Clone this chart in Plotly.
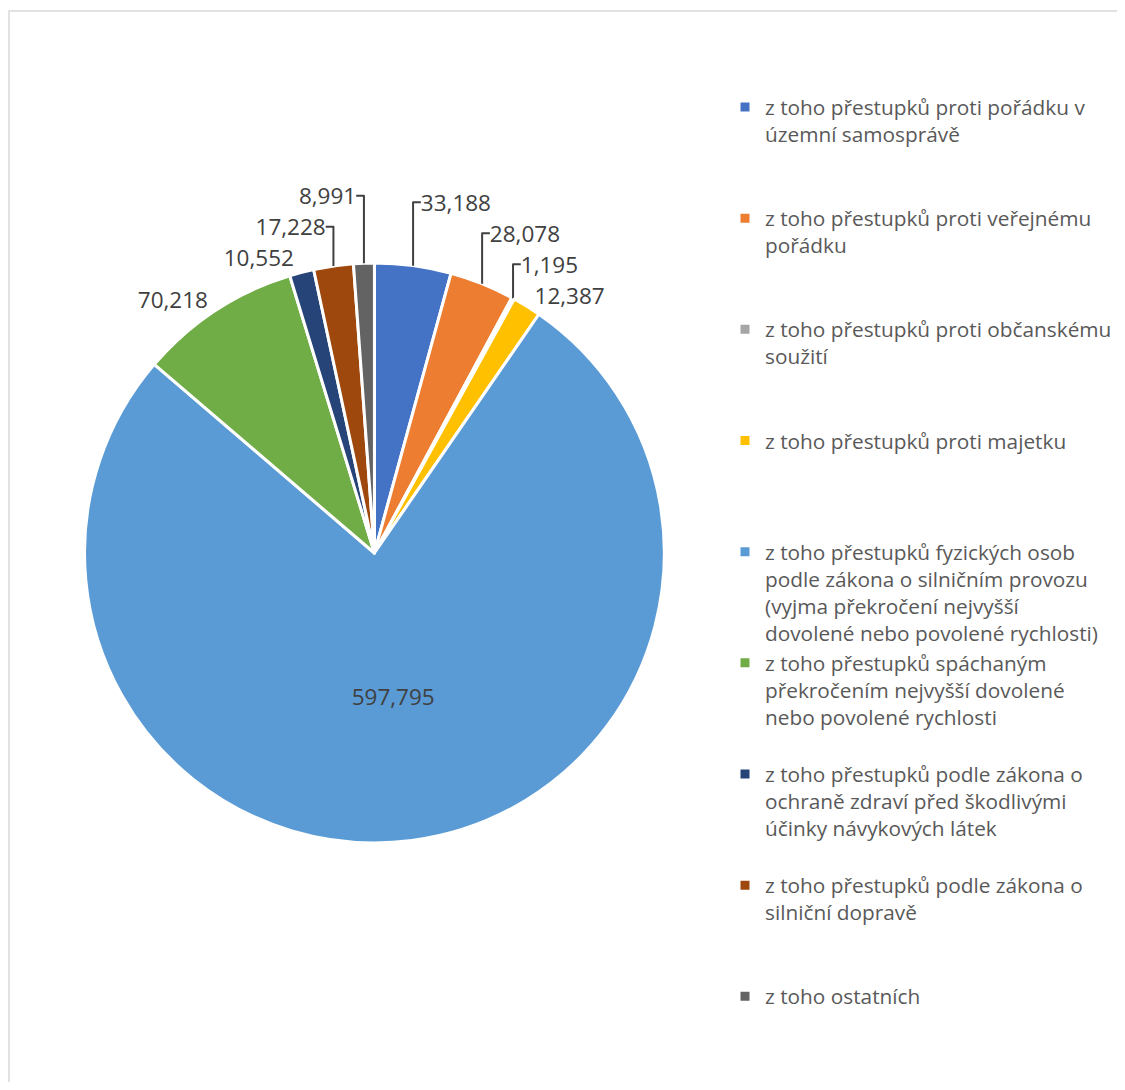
import plotly.graph_objects as go

categories = [
    "z toho přestupků proti pořádku v<br>územní samosprávě",
    "z toho přestupků proti veřejnému<br>pořádku",
    "z toho přestupků proti občanskému<br>soužití",
    "z toho přestupků proti majetku",
    "z toho přestupků fyzických osob<br>podle zákona o silničním provozu<br>(vyjma překročení nejvyšší<br>dovolené nebo povolené rychlosti)",
    "z toho přestupků spáchaným<br>překročením nejvyšší dovolené<br>nebo povolené rychlosti",
    "z toho přestupků podle zákona o<br>ochraně zdraví před škodlivými<br>účinky návykových látek",
    "z toho přestupků podle zákona o<br>silniční dopravě",
    "z toho ostatních",
]
values = [33188, 28078, 1195, 12387, 597795, 70218, 10552, 17228, 8991]
colors = ["#4472C4", "#ED7D31", "#A5A5A5", "#FFC000", "#5B9BD5",
          "#70AD47", "#264478", "#9E480E", "#636363"]
text_positions = ["outside", "outside", "outside", "outside", "inside",
                  "outside", "outside", "outside", "outside"]

# pad legend labels (except the last) to 4 lines so each legend slot has equal height
legend_labels = []
for i, c in enumerate(categories):
    n = c.count("<br>") + 1
    pad = 0 if i == len(categories) - 1 else 4 - n
    legend_labels.append(c + "<br> " * pad)

FONT = "Open Sans, Calibri, sans-serif"
W, H = 1109, 1074
cx, cy, r = 373.5, 545, 295.5

fig = go.Figure(go.Pie(
    labels=legend_labels,
    values=values,
    sort=False,
    direction="clockwise",
    rotation=0,
    marker=dict(colors=colors, line=dict(color="white", width=3)),
    texttemplate="%{value:,}",
    textposition=text_positions,
    textfont=dict(family=FONT, size=22.5, color="#404040"),
    insidetextorientation="horizontal",
    domain=dict(x=[(cx - r) / W, (cx + r) / W],
                y=[(H - cy - r) / H, (H - cy + r) / H]),
    hoverinfo="label+value",
))

fig.update_layout(
    width=W, height=H,
    margin=dict(l=0, r=0, t=0, b=0),
    paper_bgcolor="white",
    font=dict(family=FONT, color="#595959"),
    legend=dict(
        x=731 / W, y=1 - 79 / H, xanchor="left", yanchor="top",
        font=dict(family=FONT, size=20.8, color="#595959"),
        valign="top",
        itemwidth=30,
    ),
    shapes=[dict(type="rect", xref="paper", yref="paper",
                 x0=1 / W, x1=1.06, y0=-0.06, y1=1 - 3 / H,
                 line=dict(color="#D9D9D9", width=1.5))],
)

fig.write_html("out.html")
